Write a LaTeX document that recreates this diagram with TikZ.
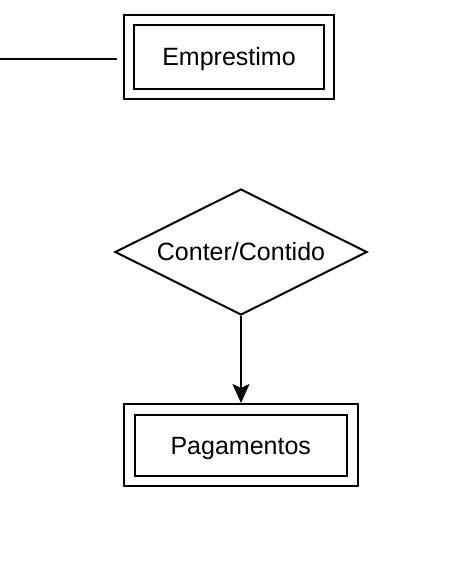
\documentclass[tikz,border=0pt]{standalone}
\usepackage{fontspec}
\setmainfont{Liberation Sans}
\usetikzlibrary{shapes.geometric,arrows.meta}
\begin{document}
\begin{tikzpicture}[x=1pt,y=-1pt,
  lw/.style={line width=2pt},
  box/.style={draw,lw,rectangle,inner sep=0pt},
  lbl/.style={font=\fontsize{25}{30}\selectfont,text height=20pt,text depth=3pt},
  dia/.style={draw,lw,diamond,aspect=2,inner sep=0pt,minimum width=252pt,minimum height=126pt}]
\useasboundingbox (0,0) rectangle (462,567);
% Emprestimo
\node[box,minimum width=210pt,minimum height=84pt] (empout) at (229,57.5) {};
\node[box,lbl,minimum width=190pt,minimum height=64pt] (empin) at (229,57.5) {Emprestimo};
% line on the left
\coordinate (lstart) at (0,59);
\coordinate (lend) at (117,59);
\draw[lw] (lstart) -- (lend);
% diamond
\node[dia,lbl] (rel) at (241,252) {Conter/Contido};
% Pagamentos
\node[box,minimum width=234pt,minimum height=81.5pt] (pagout) at (240.5,444.75) {};
\node[box,lbl,minimum width=212.5pt,minimum height=61pt] (pagin) at (240.75,445.5) {Pagamentos};
% arrow
\draw[lw,-{Stealth[length=19pt,width=17pt,inset=4pt]}] (rel.south) -- (rel.south |- pagout.north);
\end{tikzpicture}
\end{document}
